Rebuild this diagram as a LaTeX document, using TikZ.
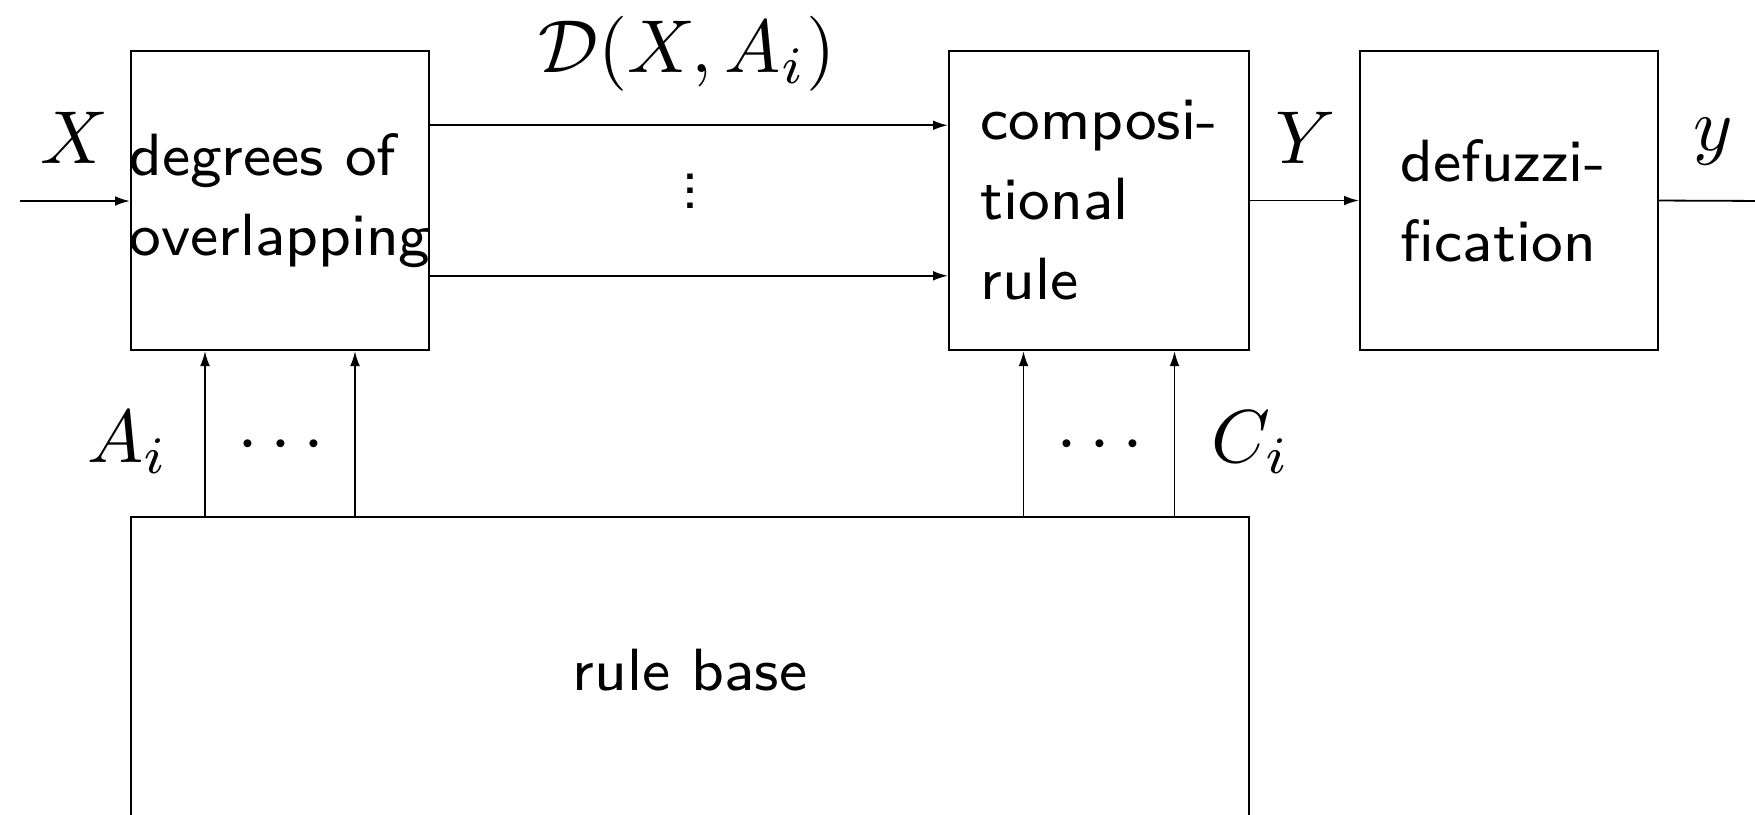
\documentclass[tikz,border=0pt]{standalone}
\usepackage{fontspec}
\usetikzlibrary{arrows.meta,calc}

\tikzset{
  blockbox/.style={draw, line width=0.27pt, inner sep=0pt},
  blocktext/.style={inner sep=0pt, align=left,
    font=\fontsize{7.95pt}{10.67pt}\sffamily\selectfont},
  arr/.style={line width=0.24pt, -{Latex[length=2pt,width=1.3pt]}},
  mlabel/.style={inner sep=0pt, anchor=base, font=\normalsize}
}

\begin{document}
\begin{tikzpicture}[x=0.13333pt,y=-0.13333pt]
  \useasboundingbox (0,0) rectangle (1755,814);
  \clip (0,0) rectangle (1755,814);

  % processing blocks
  \node[blockbox, minimum width=39.73pt, minimum height=39.87pt] (deg) at (280,200.5) {};
  \node[blockbox, minimum width=40pt, minimum height=39.87pt] (comp) at (1099,200.5) {};
  \node[blockbox, minimum width=39.73pt, minimum height=39.87pt] (defz) at (1509,200.5) {};
  \node[blockbox, minimum width=149.07pt, minimum height=40.93pt] (rb) at (690,670.5) {};

  % block captions
  \node[blocktext] (tdeg) at (deg.center) {degrees of\\overlapping};
  \node[blocktext] (tcomp) at (comp.center) {composi-\\tional\\rule};
  \node[blocktext, xshift=-0.8pt] (tdefz) at (defz.center) {defuzzi-\\fication};
  \node[blocktext] (trb) at (rb.center) {rule base};

  % free ends of the input and output lines
  \coordinate (xin) at (20,201);
  \coordinate (yout) at (1775,201);

  % main signal path
  \draw[arr] (xin) -- (deg.west |- xin);
  \draw[arr] ($(deg.north east)!0.25!(deg.south east)$) -- ($(comp.north west)!0.25!(comp.south west)$);
  \draw[arr] ($(deg.north east)!0.75!(deg.south east)$) -- ($(comp.north west)!0.75!(comp.south west)$);
  \draw[arr] (comp.east) -- (defz.west);
  \draw[arr] (defz.east) -- (yout);

  % rule base feeding the blocks
  \draw[arr] (rb.north -| {$(deg.south west)!0.25!(deg.south east)$}) -- ($(deg.south west)!0.25!(deg.south east)$);
  \draw[arr] (rb.north -| {$(deg.south west)!0.75!(deg.south east)$}) -- ($(deg.south west)!0.75!(deg.south east)$);
  \draw[arr] (rb.north -| {$(comp.south west)!0.25!(comp.south east)$}) -- ($(comp.south west)!0.25!(comp.south east)$);
  \draw[arr] (rb.north -| {$(comp.south west)!0.75!(comp.south east)$}) -- ($(comp.south west)!0.75!(comp.south east)$);

  % labels
  \node[mlabel] (lX) at (75,163) {$X$};
  \node[mlabel] (lD) at (687,72) {$\mathcal{D}(X,A_i)$};
  \node[inner sep=0pt, font=\fontsize{8.1pt}{8pt}\sffamily\selectfont] (lvd) at (690,191)
    {\vbox{\baselineskip=1.9pt\lineskiplimit=-5pt\lineskip=0pt\hbox{.}\hbox{.}\hbox{.}}};
  \node[mlabel] (lY) at (1306,163) {$Y$};
  \node[mlabel] (ly) at (1713,150) {$y$};
  \node[mlabel] (lA) at (128,462) {$A_i$};
  \node[mlabel] (ldl) at (281,462) {$\cdots$};
  \node[mlabel] (ldr) at (1100,462) {$\cdots$};
  \node[mlabel] (lC) at (1251,462) {$C_i$};
\end{tikzpicture}
\end{document}
